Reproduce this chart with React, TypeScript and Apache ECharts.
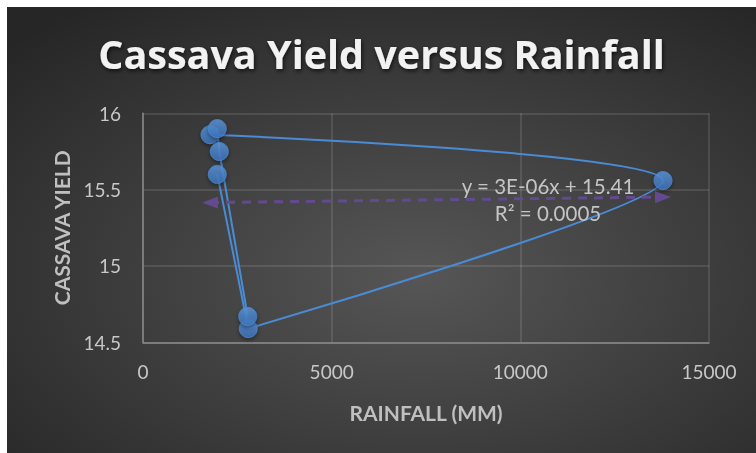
import React, { useEffect, useRef } from "react";
import * as echarts from "echarts";

// Data in order of the connecting line
const rainfall = [1969, 2790, 13781, 1776, 1969, 2022, 2775];
const cassavaYield = [15.6, 14.59, 15.56, 15.86, 15.9, 15.75, 14.67];
const xTicks = [0, 5000, 10000, 15000];
const yTicks = [14.5, 15, 15.5, 16];
const trendSlope = 3e-6;
const trendIntercept = 15.41;
const equationLines = ["y = 3E-06x + 15.41", "R² = 0.0005"];

const FONT = "Lato, 'Open Sans', sans-serif";
const LINE_COLOR = "#4a8bd6";

export default function App() {
  const ref = useRef<HTMLDivElement>(null);
  useEffect(() => {
    if (!ref.current) return;
    const chart = echarts.init(ref.current, null, { renderer: "svg" });
    const pts = rainfall.map((x, i) => [x, cassavaYield[i]]);
    const xmin = Math.min(...rainfall);
    const xmax = Math.max(...rainfall);
    const t0 = [xmin, trendSlope * xmin + trendIntercept];
    const t1 = [xmax, trendSlope * xmax + trendIntercept];
    const segment = (data: number[][], smooth: number) => ({
      type: "line",
      data,
      smooth,
      showSymbol: false,
      symbol: "none",
      lineStyle: { color: LINE_COLOR, width: 2 },
      z: 2,
      silent: true,
    });
    chart.setOption({
      animation: false,
      backgroundColor: new echarts.graphic.RadialGradient(0.55, 0.6, 0.75, [
        { offset: 0, color: "#565656" },
        { offset: 1, color: "#262626" },
      ]),
      title: {
        text: "Cassava Yield versus Rainfall",
        left: "center",
        top: 22,
        textStyle: {
          color: "#f2f2f2",
          fontFamily: "'Open Sans', Lato, sans-serif",
          fontWeight: "bold",
          fontSize: 39.5,
          textShadowColor: "rgba(0,0,0,0.7)",
          textShadowBlur: 4,
          textShadowOffsetX: 1,
          textShadowOffsetY: 2,
        },
      },
      grid: { left: 136, right: 47, top: 106.3, bottom: 110.7 },
      xAxis: {
        type: "value",
        min: xTicks[0],
        max: xTicks[xTicks.length - 1],
        interval: 5000,
        name: "RAINFALL (MM)",
        nameLocation: "middle",
        nameGap: 60,
        nameTextStyle: { color: "#bfbfbf", fontFamily: FONT, fontWeight: "bold", fontSize: 21 },
        axisLine: { show: true, lineStyle: { color: "#8a8a8a", width: 1.5 } },
        axisTick: { show: false },
        axisLabel: {
          color: "#c8c8c8",
          fontFamily: FONT,
          fontSize: 19,
          margin: 20,
          formatter: (v: number) => String(v),
        },
        splitLine: { show: true, lineStyle: { color: "rgba(255,255,255,0.14)", width: 1.5 } },
      },
      yAxis: {
        type: "value",
        min: yTicks[0],
        max: yTicks[yTicks.length - 1],
        interval: 0.5,
        name: "CASSAVA YIELD",
        nameLocation: "middle",
        nameGap: 71,
        nameTextStyle: { color: "#bfbfbf", fontFamily: FONT, fontWeight: "bold", fontSize: 21 },
        axisLine: { show: true, lineStyle: { color: "#8a8a8a", width: 1.5 } },
        axisTick: { show: false },
        axisLabel: {
          color: "#c8c8c8",
          fontFamily: FONT,
          fontSize: 19,
          margin: 22,
          formatter: (v: number) => String(v),
        },
        splitLine: { show: true, lineStyle: { color: "rgba(255,255,255,0.14)", width: 1.5 } },
      },
      series: [
        segment(pts.slice(0, 2), 0),
        segment(pts.slice(1, 4), 0.28),
        segment(pts.slice(3), 0),
        {
          type: "scatter",
          data: pts,
          symbol: "circle",
          symbolSize: 18,
          itemStyle: {
            color: new echarts.graphic.LinearGradient(0, 0, 0, 1, [
              { offset: 0, color: "#5b97dc" },
              { offset: 1, color: "#3d74bd" },
            ]),
            borderColor: "#4a85cf",
            borderWidth: 1,
            shadowColor: "rgba(0,0,0,0.5)",
            shadowBlur: 4,
            shadowOffsetY: 2,
          },
          z: 3,
          markLine: {
            silent: true,
            symbol: ["triangle", "triangle"],
            symbolSize: [12, 16],
            label: { show: false },
            lineStyle: { color: "#634a8e", width: 3, type: [9, 7] },
            itemStyle: { color: "#634a8e" },
            data: [[{ coord: t0 }, { coord: t1 }]],
          },
        },
      ],
      graphic: [
        {
          type: "text",
          x: 541,
          y: 165,
          style: {
            text: equationLines.join("\n"),
            fill: "#c4c4c4",
            font: `20.5px ${FONT}`,
            textAlign: "center",
            align: "center",
            lineHeight: 27,
          },
          z: 10,
        },
      ],
    });
    return () => chart.dispose();
  }, []);
  return (
    <div
      ref={ref}
      style={{ position: "fixed", left: 7, top: 7, width: 749, height: 446 }}
    />
  );
}
